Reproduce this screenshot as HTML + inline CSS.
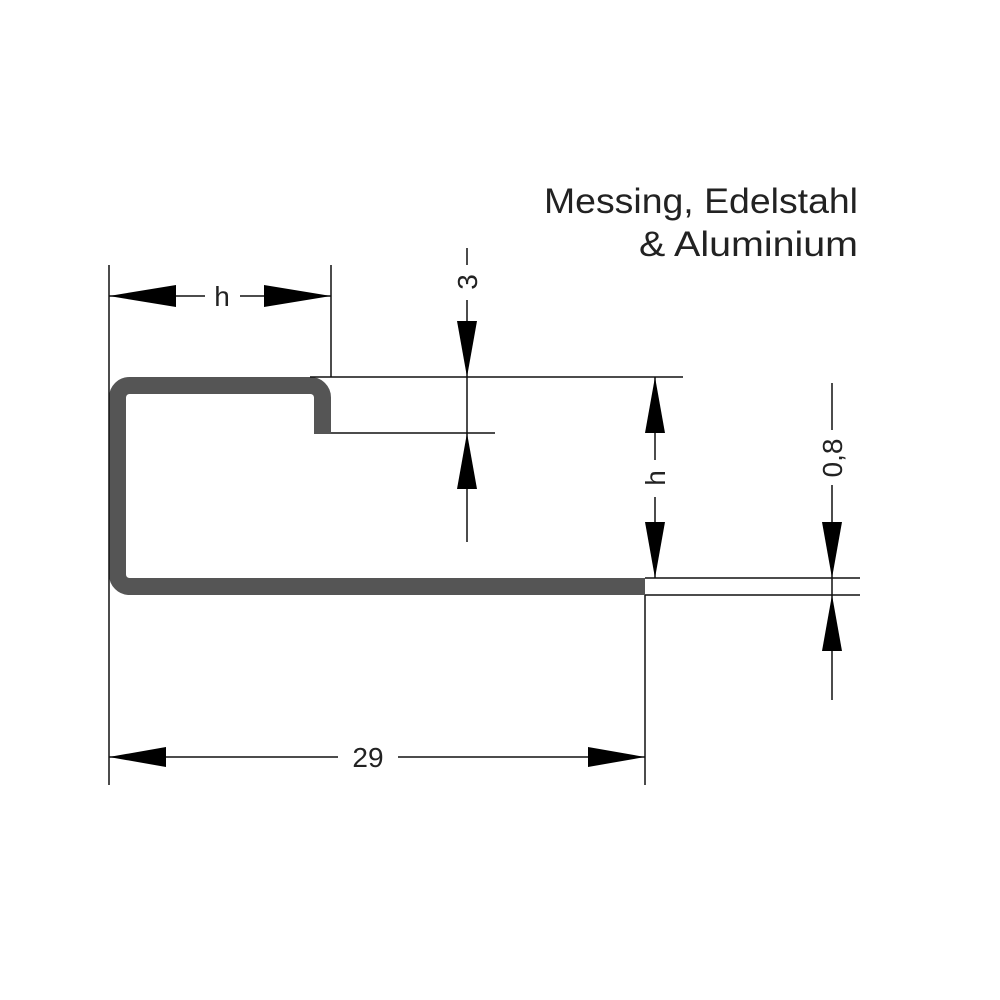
<!DOCTYPE html>
<html><head><meta charset="utf-8"><style>html,body{margin:0;padding:0;background:#fff}svg{display:block}</style></head>
<body>
<svg width="1000" height="1000" viewBox="0 0 1000 1000" xmlns="http://www.w3.org/2000/svg">
<rect width="1000" height="1000" fill="#fff"/>
<g font-family="Liberation Sans, sans-serif" fill="#222">
<text x="858" y="213" font-size="35" text-anchor="end" textLength="314" lengthAdjust="spacingAndGlyphs">Messing, Edelstahl</text>
<text x="858" y="256" font-size="35" text-anchor="end" textLength="219" lengthAdjust="spacingAndGlyphs">&amp; Aluminium</text>
</g>
<!-- profile -->
<path d="M322.5 434 V397.5 A12 12 0 0 0 310.5 385.5 H129.5 A12 12 0 0 0 117.5 397.5 V574.5 A12 12 0 0 0 129.5 586.5 H645" fill="none" stroke="#555" stroke-width="17"/>
<g stroke="#111" stroke-width="1.5" fill="none">
<line x1="109" y1="265" x2="109" y2="785"/>
<line x1="331" y1="265" x2="331" y2="377"/>
<line x1="310" y1="377" x2="683" y2="377"/>
<line x1="331" y1="433" x2="495" y2="433"/>
<line x1="645" y1="578" x2="860" y2="578"/>
<line x1="645" y1="595" x2="860" y2="595"/>
<line x1="645" y1="595" x2="645" y2="785"/>
<!-- top h -->
<line x1="109" y1="296" x2="205" y2="296"/>
<line x1="240" y1="296" x2="331" y2="296"/>
<!-- 3 -->
<line x1="467" y1="248" x2="467" y2="265"/>
<line x1="467" y1="300" x2="467" y2="542"/>
<!-- h vertical -->
<line x1="655" y1="377" x2="655" y2="460"/>
<line x1="655" y1="497" x2="655" y2="578"/>
<!-- 0,8 -->
<line x1="832" y1="383" x2="832" y2="430"/>
<line x1="832" y1="485" x2="832" y2="700"/>
<!-- 29 -->
<line x1="109" y1="757" x2="338" y2="757"/>
<line x1="398" y1="757" x2="645" y2="757"/>
</g>
<g fill="#000">
<polygon points="109,296 176,285 176,307"/>
<polygon points="331,296 264,285 264,307"/>
<polygon points="467,377 457,321 477,321"/>
<polygon points="467,433 457,489 477,489"/>
<polygon points="655,377 645,433 665,433"/>
<polygon points="655,578 645,522 665,522"/>
<polygon points="832,578 822,522 842,522"/>
<polygon points="832,595 822,651 842,651"/>
<polygon points="109,757 166,747 166,767"/>
<polygon points="645,757 588,747 588,767"/>
</g>
<g font-family="Liberation Sans, sans-serif" font-size="28" fill="#222" text-anchor="middle">
<text x="222" y="306">h</text>
<text x="368" y="767">29</text>
<text transform="translate(477,282) rotate(-90)">3</text>
<text transform="translate(665,478) rotate(-90)">h</text>
<text transform="translate(842,458) rotate(-90)">0,8</text>
</g>
</svg>
</body></html>
